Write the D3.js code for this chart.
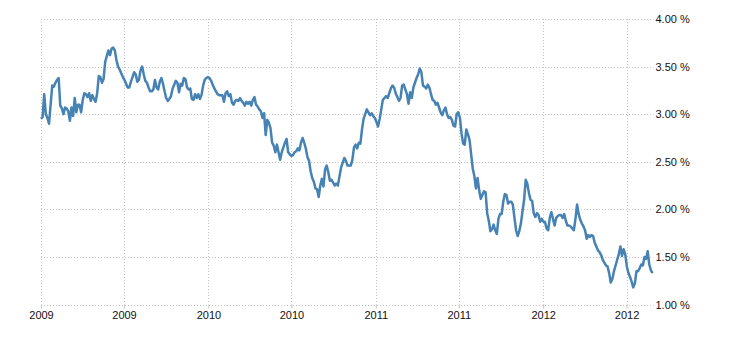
<!DOCTYPE html>
<html>
<head>
<meta charset="utf-8">
<script src="https://cdn.jsdelivr.net/npm/d3@7"></script>
<style>
  body { margin: 0; background: #fff; }
  text { font-family: "Liberation Sans", Arial, sans-serif; font-size: 11px; fill: #111; }
</style>
</head>
<body>
<svg id="chart" width="730" height="340"></svg>
<script>
var margin = {top: 19, right: 77, bottom: 35, left: 41},
    width = 611.5,
    height = 285.5;

// twice-weekly readings (every 3.5 days) from the start of 2009
var startDate = '2009-01-01';
var rates = [
  2.95, 2.97, 3.21, 3.00, 2.96, 2.90, 3.10, 3.30, 3.29, 3.33,
  3.36, 3.38, 3.09, 3.06, 3.00, 3.07, 3.06, 3.03, 2.93, 3.07,
  2.98, 3.17, 3.02, 3.10, 3.10, 3.02, 3.15, 3.22, 3.21, 3.18,
  3.22, 3.14, 3.20, 3.16, 3.13, 3.22, 3.40, 3.39, 3.33, 3.37,
  3.55, 3.61, 3.67, 3.62, 3.69, 3.70, 3.67, 3.57, 3.50, 3.47,
  3.43, 3.39, 3.36, 3.32, 3.28, 3.28, 3.34, 3.39, 3.44, 3.42,
  3.34, 3.36, 3.46, 3.50, 3.42, 3.35, 3.33, 3.28, 3.24, 3.24,
  3.26, 3.36, 3.28, 3.26, 3.34, 3.38, 3.32, 3.24, 3.17, 3.14,
  3.16, 3.19, 3.27, 3.31, 3.35, 3.33, 3.23, 3.32, 3.30, 3.38,
  3.37, 3.28, 3.26, 3.27, 3.16, 3.15, 3.21, 3.17, 3.21, 3.16,
  3.20, 3.30, 3.36, 3.38, 3.39, 3.38, 3.35, 3.31, 3.27, 3.24,
  3.21, 3.20, 3.20, 3.20, 3.13, 3.22, 3.24, 3.19, 3.21, 3.12,
  3.10, 3.14, 3.15, 3.14, 3.17, 3.14, 3.12, 3.09, 3.13, 3.11,
  3.13, 3.09, 3.15, 3.18, 3.10, 3.08, 3.05, 3.03, 2.96, 3.01,
  2.78, 2.94, 2.91, 2.85, 2.70, 2.67, 2.60, 2.68, 2.60, 2.52,
  2.60, 2.65, 2.70, 2.74, 2.60, 2.58, 2.56, 2.57, 2.60, 2.61,
  2.64, 2.62, 2.70, 2.75, 2.70, 2.64, 2.55, 2.51, 2.40, 2.33,
  2.29, 2.22, 2.21, 2.13, 2.25, 2.32, 2.24, 2.42, 2.46, 2.39,
  2.30, 2.31, 2.28, 2.25, 2.27, 2.25, 2.35, 2.44, 2.49, 2.54,
  2.51, 2.46, 2.46, 2.46, 2.52, 2.65, 2.68, 2.64, 2.70, 2.69,
  2.84, 2.95, 3.00, 3.05, 3.02, 2.99, 3.01, 2.98, 2.96, 2.92,
  2.87, 2.95, 3.05, 3.15, 3.17, 3.19, 3.17, 3.22, 3.27, 3.30,
  3.28, 3.22, 3.18, 3.14, 3.17, 3.30, 3.31, 3.26, 3.21, 3.11,
  3.23, 3.17, 3.28, 3.33, 3.38, 3.42, 3.48, 3.44, 3.30, 3.29,
  3.27, 3.31, 3.28, 3.21, 3.15, 3.14, 3.10, 3.12, 3.07, 3.02,
  2.99, 3.04, 3.07, 3.00, 2.96, 2.97, 2.94, 2.88, 2.87, 3.00,
  3.02, 2.96, 2.80, 2.69, 2.68, 2.84, 2.79, 2.73, 2.58, 2.43,
  2.35, 2.22, 2.33, 2.20, 2.11, 2.15, 2.19, 2.18, 1.96, 1.88,
  1.77, 1.79, 1.84, 1.78, 1.74, 1.90, 1.95, 1.95, 2.08, 2.16,
  2.15, 2.06, 2.08, 2.08, 2.05, 1.91, 1.78, 1.72, 1.77, 1.85,
  1.98, 2.10, 2.31, 2.27, 2.17, 2.10, 2.09, 1.96, 1.92, 1.96,
  1.94, 1.87, 1.90, 1.87, 1.87, 1.80, 1.78, 1.91, 1.97, 1.90,
  1.83, 1.91, 1.93, 1.94, 1.94, 1.91, 1.95, 1.88, 1.83, 1.83,
  1.82, 1.80, 1.78, 1.90, 2.05, 1.95, 1.89, 1.85, 1.82, 1.78,
  1.69, 1.73, 1.71, 1.73, 1.72, 1.65, 1.61, 1.57, 1.55, 1.52,
  1.47, 1.44, 1.41, 1.40, 1.33, 1.23, 1.27, 1.35, 1.41, 1.47,
  1.53, 1.61, 1.51, 1.58, 1.53, 1.40, 1.33, 1.29, 1.24, 1.18,
  1.22, 1.35, 1.35, 1.38, 1.42, 1.41, 1.50, 1.48, 1.56, 1.42,
  1.36, 1.33
];
var yTicks = [1, 1.5, 2, 2.5, 3, 3.5, 4];

var parse = d3.timeParse('%Y-%m-%d');
var t0 = parse(startDate);
var data = rates.map((v, i) => ({date: d3.timeHour.offset(t0, i * 84), value: v}));
var tEnd = data[data.length - 1].date;

var svg = d3.select('#chart');
var g = svg.append('g').attr('transform', 'translate(' + margin.left + ',' + margin.top + ')');

var x = d3.scaleTime()
  .domain([t0, tEnd])
  .range([0, width]);

var y = d3.scaleLinear()
  .domain([1, 4])
  .range([height, 0]);

var xTicks = d3.timeMonth.every(6).range(t0, tEnd);

// horizontal grid
g.selectAll('.hgrid')
  .data(yTicks)
  .enter()
  .append('line')
  .attr('x1', 0)
  .attr('x2', width + 1)
  .attr('y1', d => Math.round(y(d)) + 0.5)
  .attr('y2', d => Math.round(y(d)) + 0.5)
  .attr('stroke', '#c4c4c4')
  .attr('stroke-dasharray', '1,2');

// vertical grid
g.selectAll('.vgrid')
  .data(xTicks)
  .enter()
  .append('line')
  .attr('x1', d => Math.round(x(d)) + 0.5)
  .attr('x2', d => Math.round(x(d)) + 0.5)
  .attr('y1', 0)
  .attr('y2', height)
  .attr('stroke', '#c4c4c4')
  .attr('stroke-dasharray', '1,2');

// bottom axis
var xAxis = d3.axisBottom(x)
  .tickValues(xTicks)
  .tickFormat(d3.timeFormat('%Y'))
  .tickSize(4)
  .tickPadding(3);

var xg = g.append('g')
  .attr('transform', 'translate(0,' + height + ')')
  .call(xAxis);
xg.select('.domain').remove();
xg.selectAll('.tick line').attr('stroke', '#c4c4c4');
xg.selectAll('.tick text').attr('font-size', 11).attr('font-family', '"Liberation Sans", Arial, sans-serif').attr('fill', '#111');

// right axis labels
var yAxis = d3.axisRight(y)
  .tickValues(yTicks)
  .tickFormat(d => d3.format('.2f')(d) + ' %')
  .tickSize(0)
  .tickPadding(3);

var yg = g.append('g')
  .attr('transform', 'translate(' + width + ',0)')
  .call(yAxis);
yg.select('.domain').remove();
yg.selectAll('.tick text').attr('font-size', 11).attr('font-family', '"Liberation Sans", Arial, sans-serif').attr('fill', '#111');

// the series
var line = d3.line()
  .x(d => x(d.date))
  .y(d => y(d.value));

g.append('path')
  .datum(data)
  .attr('fill', 'none')
  .attr('stroke', '#4682b4')
  .attr('stroke-width', 2.5)
  .attr('stroke-linejoin', 'round')
  .attr('d', line);
</script>
</body>
</html>
